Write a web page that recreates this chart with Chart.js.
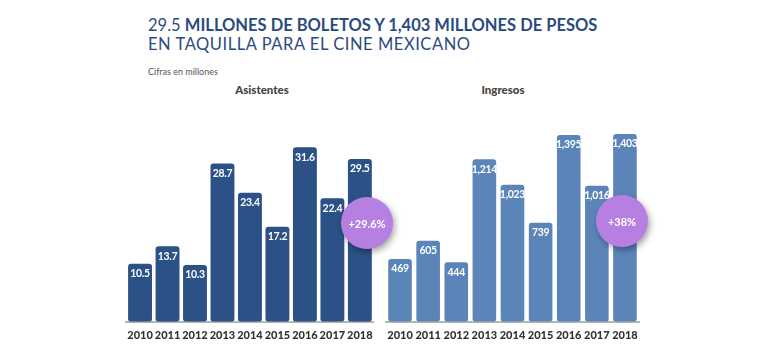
<!DOCTYPE html>
<html>
<head>
<meta charset="utf-8">
<script src="https://cdn.jsdelivr.net/npm/chart.js@4/dist/chart.umd.min.js"></script>
<style>
  body { margin: 0; background: #fff; width: 780px; height: 350px; position: relative; overflow: hidden; font-family: Lato, "Open Sans", sans-serif; }
  .titulo { position: absolute; left: 148px; color: #2b4b80; font-size: 16.5px; white-space: nowrap; line-height: 1; }
  .nota { position: absolute; left: 148px; top: 66px; font-size: 9px; color: #555; }
  .sub { position: absolute; top: 83px; font-size: 11.5px; font-weight: 900; color: #444; transform: translateX(-50%); }
  .grafica { position: absolute; top: 95px; height: 255px; }
  .circulo { position: absolute; width: 52px; height: 52px; border-radius: 50%; background: #b680e2; color: #fff;
    font-weight: 700; font-size: 11px; display: flex; align-items: center; justify-content: center;
    box-shadow: 2px 3px 6px rgba(0,0,0,0.35); }
</style>
</head>
<body>
<div class="titulo" style="top:17px">29.5 <b>MILLONES DE BOLETOS Y 1,403 MILLONES DE PESOS</b></div>
<div class="titulo" style="top:36px;letter-spacing:0.55px">EN TAQUILLA PARA EL CINE MEXICANO</div>
<div class="nota">Cifras en millones</div>
<div class="sub" style="left:262px">Asistentes</div>
<div class="sub" style="left:503px">Ingresos</div>
<div class="grafica" style="left:120px;width:260px"><canvas id="cAsistentes"></canvas></div>
<div class="grafica" style="left:380px;width:265px"><canvas id="cIngresos"></canvas></div>
<div class="circulo" style="left:341px;top:197px">+29.6%</div>
<div class="circulo" style="left:596px;top:195px">+38%</div>
<script>
// Datos
const anios = ['2010', '2011', '2012', '2013', '2014', '2015', '2016', '2017', '2018'];
const asistentes = [10.5, 13.7, 10.3, 28.7, 23.4, 17.2, 31.6, 22.4, 29.5];
const etiquetasAsistentes = ['10.5', '13.7', '10.3', '28.7', '23.4', '17.2', '31.6', '22.4', '29.5'];
const ingresos = [469, 605, 444, 1214, 1023, 739, 1395, 1016, 1403];
const etiquetasIngresos = ['469', '605', '444', '1,214', '1,023', '739', '1,395', '1,016', '1,403'];

// Etiquetas blancas dentro de cada barra
const etiquetasPlugin = {
    id: 'etiquetas',
    afterDatasetsDraw(chart) {
        const ctx = chart.ctx;
        const textos = chart.options.plugins.etiquetas.textos;
        ctx.save();
        ctx.fillStyle = '#fff';
        ctx.font = 'bold 10.5px Lato, "Open Sans", sans-serif';
        ctx.letterSpacing = '-0.3px';
        ctx.textAlign = 'center';
        ctx.textBaseline = 'middle';
        chart.getDatasetMeta(0).data.forEach((bar, i) => {
            ctx.fillText(textos[i], bar.x, bar.y + 10);
        });
        ctx.restore();
    }
};

function crearGrafica(id, valores, textos, color, maximo, padding, barPct) {
    new Chart(document.getElementById(id), {
        type: 'bar',
        data: {
            labels: anios,
            datasets: [{
                data: valores,
                backgroundColor: color,
                borderRadius: 3,
                borderSkipped: false,
                categoryPercentage: 1,
                barPercentage: barPct
            }]
        },
        options: {
            responsive: true,
            maintainAspectRatio: false,
            animation: false,
            layout: { padding: padding },
            plugins: {
                legend: { display: false },
                tooltip: { enabled: false },
                etiquetas: { textos: textos }
            },
            scales: {
                x: {
                    grid: { display: false, drawTicks: false },
                    border: { color: '#b5b5b5', width: 2 },
                    ticks: {
                        color: '#333', padding: 7, maxRotation: 0, minRotation: 0, autoSkip: false,
                        font: { family: 'Lato, "Open Sans", sans-serif', size: 11, weight: '900' }
                    }
                },
                y: { display: false, min: 0, max: maximo }
            }
        },
        plugins: [etiquetasPlugin]
    });
}

crearGrafica('cAsistentes', asistentes, etiquetasAsistentes, '#2c5187', 40, { left: 5, right: 6.4, top: 6, bottom: 1 }, 0.87);
crearGrafica('cIngresos', ingresos, etiquetasIngresos, '#5b85b9', 1600, { left: 5.4, right: 5.4, top: 12.5, bottom: 1 }, 0.84);
</script>
</body>
</html>
